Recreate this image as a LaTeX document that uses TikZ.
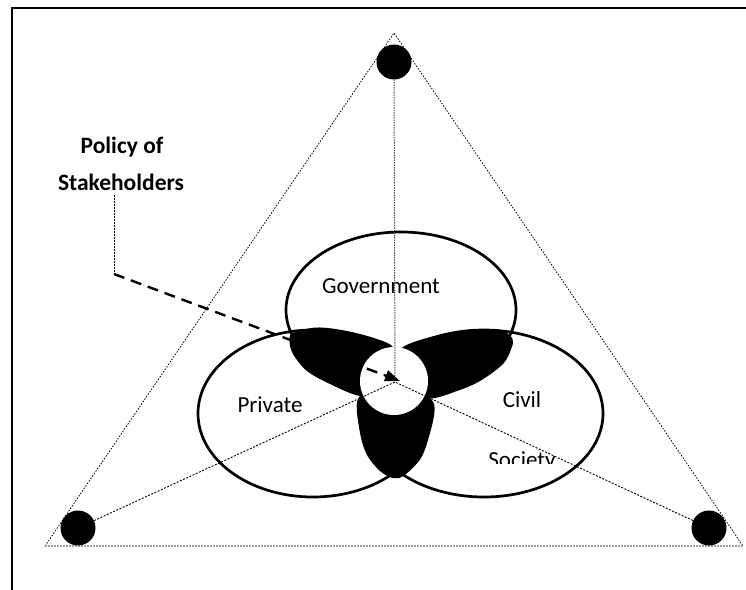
\documentclass[tikz,border=0pt]{standalone}
\usepackage{fontspec}
\setmainfont{Carlito}
\usetikzlibrary{arrows.meta}
\begin{document}
\begin{tikzpicture}[x=1pt,y=-1pt,
  frame/.style={line width=2pt},
  triedge/.style={line width=0.8pt, dash pattern=on 1.5pt off 1.5pt},
  baseedge/.style={line width=1.5pt, gray!75, dash pattern=on 2pt off 1pt},
  radial/.style={line width=0.9pt, dash pattern=on 2pt off 1.5pt},
  vertline/.style={line width=1pt, black!70, dash pattern=on 1.5pt off 1pt},
  leader/.style={line width=0.8pt, dash pattern=on 1.5pt off 1.5pt},
  dasharrow/.style={line width=2.4pt, dash pattern=on 11pt off 7pt, -{Triangle[length=15pt,width=11pt]}},
  venn/.style={line width=2.7pt},
  dot/.style={circle, fill=black, minimum size=35pt, inner sep=0pt},
  core/.style={circle, fill=white, minimum size=68pt, inner sep=0pt},
  lbl/.style={inner sep=0pt, font=\fontsize{23}{28}\selectfont},
  blbl/.style={inner sep=0pt, font=\fontsize{23.5}{28}\selectfont\bfseries}
]
\useasboundingbox (0,0) rectangle (746,589);
% frame (only top and left edges visible)
\draw[frame] (12,600) -- (12,8) -- (760,8);
% triangle
\coordinate (apex) at (394,33);
\coordinate (lcorner) at (45,546);
\coordinate (rcorner) at (743,546);
\draw[triedge] (lcorner) -- (apex) -- (rcorner);
\draw[baseedge] (lcorner) -- (rcorner);
% corner dots
\node[dot] (tdot) at (394,62) {};
\node[dot] (ldot) at (78,528) {};
\node[dot] (rdot) at (709,528) {};
% ellipses
\draw[venn] (401,310) ellipse [x radius=115, y radius=78];
\draw[venn] (313,413.5) ellipse [x radius=115, y radius=83.5];
\draw[venn] (484,413.5) ellipse [x radius=119, y radius=83.5];
% black lobes
\fill[black] plot[smooth cycle, tension=0.55] coordinates {(293,333) (317,327.5) (347,331) (377,339) (393,347) (400,365) (385,392) (360,396) (330,384) (307,371) (293,354) (289.5,341)};
\fill[black] plot[smooth cycle, tension=0.55] coordinates {(403,347) (440,334.5) (473,329.5) (503,331.5) (512.5,339) (511.5,348) (503,364) (480,381) (457,391) (430,398.5) (410,390) (398,365)};
\fill[black] plot[smooth cycle, tension=0.55] coordinates {(358,399) (359.5,430) (366.5,454) (380,471) (393,478) (404,475.5) (421,458) (430,433) (434.5,411) (431,399) (410,385) (380,385)};
% central circle
\node[core] (centre) at (394,381) {};
% labels
\node[lbl, anchor=base] (gov) at (381,293) {Government};
\node[lbl, anchor=base] (priv) at (270,412) {Private};
\node[lbl, anchor=base] (civ) at (522,407) {Civil};
\begin{scope}
  \clip (440,430) rectangle (600,463);
  \node[lbl, anchor=base] (soc) at (522,467) {Society};
\end{scope}
\node[blbl, anchor=base] (pol) at (122,153) {Policy of};
\node[blbl, anchor=base] (stake) at (121,190) {Stakeholders};
% radial lines
\coordinate (C) at (395,382);
\draw[vertline] (tdot) -- (C);
\draw[radial] (ldot) -- (C);
\draw[radial] (rdot) -- (C);
% pointer
\coordinate (bend) at (114,274);
\coordinate (tip) at (400,381);
\coordinate (lstart) at ([yshift=-5pt]bend |- stake.south);
\draw[leader] (lstart) -- (bend);
\draw[dasharrow] (bend) -- (tip);
\end{tikzpicture}
\end{document}
